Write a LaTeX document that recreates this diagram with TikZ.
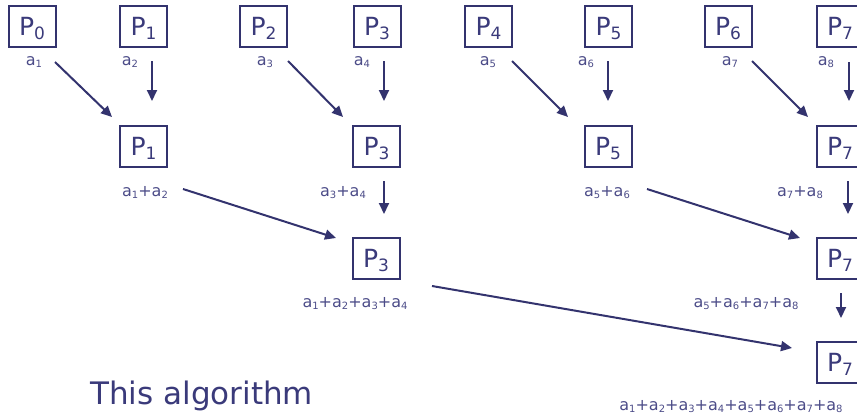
\documentclass[tikz,border=0pt]{standalone}
\usepackage{fontspec}
\setmainfont{DejaVu Sans}
\usetikzlibrary{arrows.meta}
\definecolor{navy}{RGB}{51,51,110}
\definecolor{ptxt}{RGB}{58,58,122}
\definecolor{lbl}{RGB}{76,76,136}
\newcommand\bsub[1]{{\fontsize{17}{17}\selectfont\raisebox{-4pt}{#1}}}
\newcommand\ssub[1]{{\fontsize{10}{10}\selectfont\raisebox{-2.5pt}{#1}}}
\tikzset{
 proc/.style={draw=navy, line width=2pt, minimum width=47pt, minimum height=41pt, inner sep=0pt, text=ptxt, font=\fontsize{25}{25}\selectfont, text height=18pt, text depth=0pt},
 lab/.style={text=lbl, font=\fontsize{16}{16}\selectfont, inner sep=0pt, anchor=base},
 arr/.style={draw=navy, line width=2pt, -{Triangle[length=11pt,width=10pt]}},
}
\begin{document}
\begin{tikzpicture}[x=1pt,y=-1pt]
\useasboundingbox (0,0) rectangle (857,418);
\clip (0,0) rectangle (857,418);
% row 1 boxes
\node[proc] (a0) at (32,26) {P\bsub{0}};
\node[proc] (a1) at (143.5,26) {P\bsub{1}};
\node[proc] (a2) at (263.5,26) {P\bsub{2}};
\node[proc] (a3) at (377,26) {P\bsub{3}};
\node[proc] (a4) at (488.5,26) {P\bsub{4}};
\node[proc] (a5) at (608.5,26) {P\bsub{5}};
\node[proc] (a6) at (728,26) {P\bsub{6}};
\node[proc] (a7) at (840,26) {P\bsub{7}};
% row 1 labels
\node[lab] (la0) at (34,65) {a\ssub{1}};
\node[lab] (la1) at (130,65) {a\ssub{2}};
\node[lab] (la2) at (265,65) {a\ssub{3}};
\node[lab] (la3) at (362,65) {a\ssub{4}};
\node[lab] (la4) at (488,65) {a\ssub{5}};
\node[lab] (la5) at (586,65) {a\ssub{6}};
\node[lab] (la6) at (730,65) {a\ssub{7}};
\node[lab] (la7) at (826,65) {a\ssub{8}};
% row 2 boxes
\node[proc] (b1) at (143.5,146.5) {P\bsub{1}};
\node[proc] (b3) at (376.5,146.5) {P\bsub{3}};
\node[proc] (b5) at (608,146.5) {P\bsub{5}};
\node[proc] (b7) at (840,146.5) {P\bsub{7}};
% row 2 labels
\node[lab] (lb1) at (145,196) {a\ssub{1}+a\ssub{2}};
\node[lab] (lb3) at (343,196) {a\ssub{3}+a\ssub{4}};
\node[lab] (lb5) at (607,196) {a\ssub{5}+a\ssub{6}};
\node[lab] (lb7) at (800,196) {a\ssub{7}+a\ssub{8}};
% row 3 boxes
\node[proc] (c3) at (376,258.5) {P\bsub{3}};
\node[proc] (c7) at (840,258.5) {P\bsub{7}};
\node[lab] (lc3) at (355,307) {a\ssub{1}+a\ssub{2}+a\ssub{3}+a\ssub{4}};
\node[lab] (lc7) at (746,307) {a\ssub{5}+a\ssub{6}+a\ssub{7}+a\ssub{8}};
% row 4
\node[proc] (d7) at (840,362.5) {P\bsub{7}};
\node[lab] (ld7) at (731,410) {a\ssub{1}+a\ssub{2}+a\ssub{3}+a\ssub{4}+a\ssub{5}+a\ssub{6}+a\ssub{7}+a\ssub{8}};
% caption
\node[text=ptxt, font=\fontsize{31}{31}\selectfont, inner sep=0pt, anchor=base west] (cap) at (90,404) {This algorithm};
% arrow end points
\coordinate (s01) at (55,62);  \coordinate (e01) at (112,117);
\coordinate (s11) at (152,61); \coordinate (e11) at (152,101);
\coordinate (s23) at (288,61); \coordinate (e23) at (343,117);
\coordinate (s33) at (384,61); \coordinate (e33) at (384,101);
\coordinate (s45) at (512,61); \coordinate (e45) at (568,117);
\coordinate (s55) at (608,61); \coordinate (e55) at (608,101);
\coordinate (s67) at (752,61); \coordinate (e67) at (808,117);
\coordinate (s77) at (849,62); \coordinate (e77) at (849,101);
\coordinate (t13) at (183,189); \coordinate (u13) at (336,238);
\coordinate (t33) at (384,181); \coordinate (u33) at (384,214);
\coordinate (t57) at (647,189); \coordinate (u57) at (800,238);
\coordinate (t77) at (848,181); \coordinate (u77) at (848,214);
\coordinate (v37) at (432,286); \coordinate (w37) at (792,348);
\coordinate (v77) at (841,293); \coordinate (w77) at (841,318);
% arrows
\draw[arr] (s01) -- (e01);
\draw[arr] (s11) -- (e11);
\draw[arr] (s23) -- (e23);
\draw[arr] (s33) -- (e33);
\draw[arr] (s45) -- (e45);
\draw[arr] (s55) -- (e55);
\draw[arr] (s67) -- (e67);
\draw[arr] (s77) -- (e77);
\draw[arr] (t13) -- (u13);
\draw[arr] (t33) -- (u33);
\draw[arr] (t57) -- (u57);
\draw[arr] (t77) -- (u77);
\draw[arr] (v37) -- (w37);
\draw[arr] (v77) -- (w77);
\end{tikzpicture}
\end{document}
